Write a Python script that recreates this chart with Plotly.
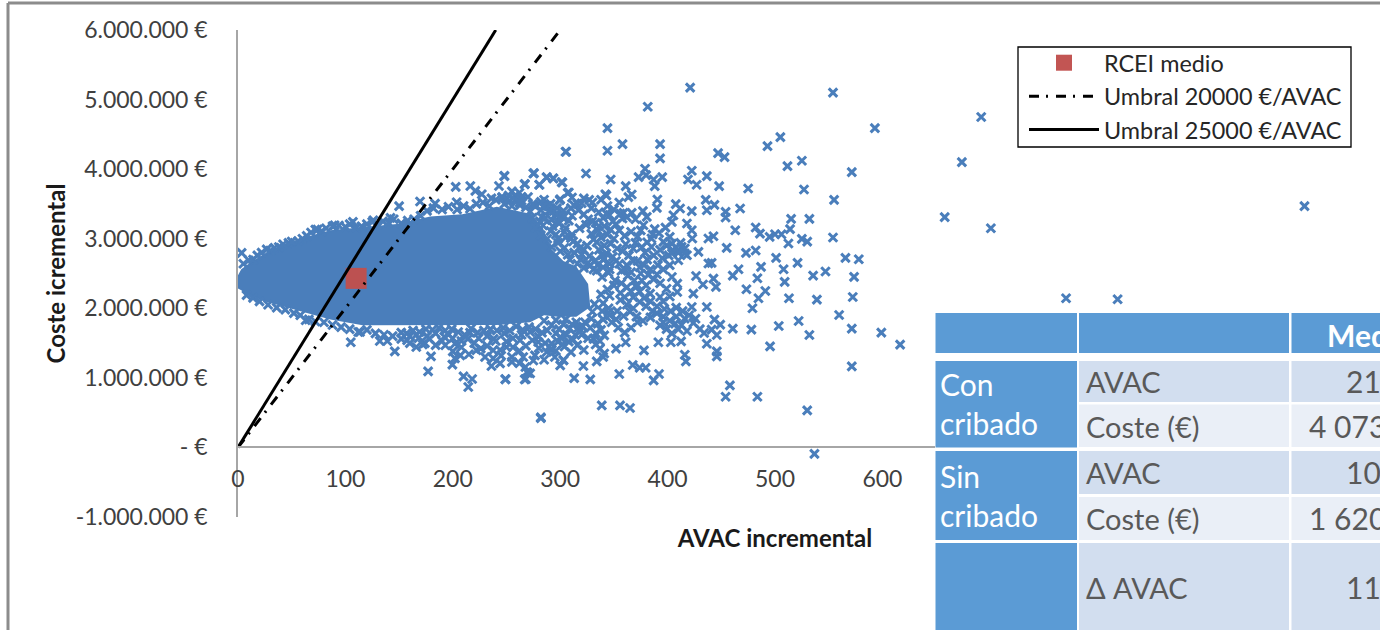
import plotly.graph_objects as go

# Values: AVAC incremental, coste incremental (miles de euros)
nucleo_avac = [-2,-2,3,8,23,55,86,116,148,179,209,241,272,284,292,303,315,326,328,315,298,285,272,241,209,179,148,116,86,55,23,8,3]
nucleo_coste = [2300,2420,2560,2620,2770,2990,3120,3165,3210,3320,3350,3460,3360,3150,2850,2680,2600,2350,2020,1880,1880,1900,1800,1760,1760,1760,1760,1755,1840,1970,2110,2210,2260]

franja_superior = [(3.4,2796),(26.7,2846),(47,2940),(56,2968),(74,3133),(90,3193),(107,3242),(126,3266),(142,3300),(150,3468),(169.5,3535),(183.5,3505),(203.6,3525),(202.7,3745),(216.3,3758),(221,3688),(243,3758),(248,3904),(267,3785),(250.5,3583),(262.6,3482),(275.6,3943),(280.5,3775),(287.4,3885),(293.4,3870),(301.4,3813),(305,4250),(300,3568),(307,3659),(259.5,3554),(274.4,3497),(282,3410),(282.8,3314),(296.7,3338),
(5,2640),(10,2690),(14,2700),(18,2760),(22,2800),(30,2830),(34,2870),(38,2880),(42,2920),(50,2960),(60,3000),(64,3040),(68,3090),(72,3130),(78,3110),(82,3150),(88,3180),(94,3190),(100,3170),(104,3210),(110,3160),(115,3180),(120,3210),(125,3240),(130,3200),(135,3250),(140,3230),(145,3280),(152,3220),(158,3260),(164,3280),(170,3330),(176,3400),(182,3440),(190,3420),(196,3460),(204,3420),(210,3470),(216,3430),(222,3500),(228,3520),(234,3470),(240,3560),(246,3600),(252,3530),(258,3620),(264,3550),(270,3600),(276,3480),(282,3530),(288,3470),(294,3400),(300,3330),(262,3660),(236,3580),(227,3640),(255,3680)]

franja_inferior = [(63,1828),(105,1511),(132,1530),(139,1530),(113.6,1660),(146,1381),(179.7,1309),(177,1094),(199.6,1190),(210,1022),(218,983),(214.4,868),(249,983),(268,983),(272,1065),(282,432),(303,1252),(236,1170),(244,1208),(267.6,1156),(269,1084),(222,1396),(207,1324),(202,1280),(193,1468),(166,1443),(157.5,1540),(174,1500),(237.6,1396),(237.6,1280),(250,1443),(262.6,1540),(255,1300),(265.6,1300),(276.5,1324),(287.4,1371),(292,1492),(300,1587),(279.6,1515),
(8,2190),(14,2150),(20,2100),(28,2050),(36,2010),(44,1980),(52,1930),(58,1900),(66,1840),(72,1810),(80,1800),(88,1760),(96,1730),(104,1700),(112,1660),(120,1690),(128,1640),(136,1620),(144,1600),(152,1650),(160,1600),(168,1570),(176,1600),(184,1640),(192,1590),(200,1570),(208,1530),(216,1650),(224,1570),(232,1600),(240,1530),(248,1640),(256,1570),(264,1620),(272,1660),(280,1590),(288,1680),(296,1640),
(152,1560),(160,1500),(166,1620),(172,1480),(178,1560),(184,1470),(190,1530),(196,1620),(202,1490),(208,1440),(214,1560),(220,1500),(226,1420),(232,1460),(238,1560),(244,1400),(250,1520),(256,1440),(262,1390),(268,1460),(274,1540),(280,1430),(286,1500),(292,1400),(298,1520),(304,1450),(310,1370),(316,1470),(322,1400),(200,1380),(215,1340),(230,1300),(245,1320),(255,1230),(262,1210),(275,1250),(285,1260),(295,1300),(300,1180),
(285,1820),(292,1760),(299,1700),(305,1840),(311,1770),(317,1720),(323,1800),(329,1850),(335,1780),(340,1840),(346,1900),(352,1840),(320,1620),(326,1570),(314,1620),(308,1520),(302,1480),(296,1390),(290,1450),(283,1650),(277,1700),(271,1730),(265,1690),(259,1740),(253,1680),(247,1720),(241,1680),(235,1700),(229,1680),(223,1650),(217,1710),(211,1620),(205,1660),(199,1700),(193,1680),(187,1720),(181,1690),(175,1700),(169,1660),(163,1680),(157,1640)]

dispersos = [(421,5171),(554,5099),(381.5,4897),(593,4590),(344,4590),(505,4461),(493,4331),(358,4360),(305.5,4250),(344,4264),(393,4360),(393,4154),(447,4230),(453,4173),(511.6,4043),(525,4120),(571.5,3957),(475,3722),(527,3708),(555,3559),(248,3900),(275,3938),(267,3784),(280.6,3775),(287.5,3880),(293.7,3866),(302,3808),(324,3938),(347,3852),(361,3756),(373,3885),(379,4005),(380,3914),(387,3852),(395,3885),(388,3756),(422.5,3976),(419,3852),(427,3775),(436.5,3900),(448,3756),(308,3665),(311,3593),(299.6,3554),(327,3559),(342,3640),(343,3621),(366.6,3636),(363.5,3597),(355,3520),(390.5,3564),(390,3444),(377,3396),(380.6,3314),(407.6,3497),(411.6,3434),(422.5,3396),(435.5,3559),(436.5,3410),(443.6,3487),(454,3386),(454,3305),(467.5,3434),(515,3286),(532,3286),(514,3137),(482,3161),(486,3074),(463,3122),(495,3026),(500,3065),(506,3065),(512.5,2931),(525,2998),(530,2959),(554,3017),(455,2868),(473,2796),(482,2830),(501,2724),(521,2652),(508,2561),(565.6,2724),(578,2705),(547,2528),(535.5,2470),(573.6,2451),(509,2379),(487,2595),(483.6,2432),(466,2561),(460.7,2470),(473.4,2273),(491,2249),(484.6,2144),(513,2144),(539,2125),(572.4,2163),(479,2000),(559.7,1904),(522,1818),(503.5,1746),(478,1693),(460.7,1707),(571.5,1707),(532,1616),(599,1650),(616.5,1477),(495.4,1453),(571.5,1165),(458,892),(454,729),(483.6,729),(530,532),(536.7,-92),(282,422),(338.7,604),(355.7,604),(365,566),(313,997),(328,978),(355,1055),(387,964),(392,1055),(367.5,1184),(374,1146),(379.6,1146),(249,978),(267,978),(270,1069),(303,1256),(321.6,1170),(334,1237),(340,1300),(378,1395),(352,1420),(361,1511),(391.4,1511),(403,1511),(412.6,1525),(416,1333),(417,1237),(445.8,1381),(445.8,1309),(436.5,1491),(445.8,1616),(434,1645),(441,1693),(449,1765),(443.6,1837),(418,1674),(416,1851),(407,1779),(393,1755),(436.5,2019),(422.5,2019),(424,2211),(409,2355),(409,2235),(393,2163),(383.7,2211),(433,2341),(442.7,2427),(445,2307),(426.5,2465),(438,2643),(441,2652),(428.7,2811),(418,2763),(409.5,2835),(405,2835),(413,2883),(423,3003),(422.5,3122),(418,3218),(438,3003),(442.7,3036),(404,3242),(405.4,3338),(396,2955),(402,3026),(388,3137),(385,3003),(377.5,3194),(366.6,3372),(359,3372),(658,3310),(674,4101),(692,4749),(701,3151),(993,3468),(771,2144),(819,2130)]

nube_media = [(246,3590),(252,3620),(258,3560),(264,3600),(248,3500),(255,3470),(262,3520),(268,3450),(272,3390),(274,3300),(281,3250),(277,3160),(284,3190),(282,3050),(288,3000),(291,3110),(296,3060),(293,3180),(299,3220),(305,3150),(302,3310),(308,3260),(296,3350),(311,3330),(317,3410),(322,3350),(329,3440),(336,3380),(326,3280),(313,3480),(320,3510),(340,3300),(333,3230),(346,3340),(352,3210),(358,3290),(370,3280),
(292,2880),(298,2940),(304,2870),(310,3010),(316,2930),(322,2840),(329,3070),(335,3120),(341,3180),(347,3130),(338,3020),(344,3060),(350,3000),(334,2950),(341,2900),(347,2930),(353,2860),(336,2840),(343,2790),(349,2740),(340,2700),(346,2640),(335,2620),(352,2680),(358,2820),(364,2760),(370,2940),(376,2880),(360,3040),(366,3100),(372,3030),(379,2800),(362,2620),(368,2680),(374,2590),(381,2700),(387,2760),(393,2840),(399,2900),(385,2880),(391,2620),
(319,2700),(325,2640),(331,2560),(339,2450),(345,2510),(351,2400),(357,2540),(363,2470),(369,2400),(375,2500),(332,2060),(338,2200),(344,2270),(350,2330),(356,2220),(362,2300),(368,2160),(374,2240),(380,2330),(387,2420),(393,2360),(399,2280),(404,2450),
(330,1950),(296,1830),(303,1770),(309,1710),(315,1800),(321,1740),(306,1620),(312,1550),(318,1660),(301,1570),(328,1720),(333,1640),(338,1690),(331,1560),(337,1530),(341,1610),(337,1420),(341,1350),(333,1480),
(356,2120),(362,2050),(368,2000),(374,2090),(380,2030),(386,1960),(353,1960),(359,1890),(365,1950),(371,1880),(377,1820),(348,1800),(354,1720),(360,1650),(366,1720),(372,1800),(384,1870),(390,1930),(396,1880),(402,1820),(408,1880),(413,1760),(399,1700),(404,1640),(396,1800),(410,1700),
(404,2930),(408,2880),(412,2940),(416,2860),(410,2800),(404,2790),(416,2790),
(285,3560),(291,3500),(297,3440),(303,3400),(290,3400),(284,3460),(310,3440),(316,3500),(322,3580),(330,3520),(338,3560),(344,3470),(350,3420),(356,3360),(362,3310),(286,3300),(292,3270),(298,3240),(304,3100),(311,3060),(318,3150),(324,3200),(330,3250),(336,3180),
(298,3000),(305,3020),(312,2960),(318,2860),(325,2900),(331,2990),(300,2820),(307,2770),(313,2800),(320,2770),(327,2750),(333,2690),(339,2760),(309,2700),(316,2640),(322,2580),(328,2620),(334,2540),(340,2590),(346,2560),
(355,2640),(360,2560),(366,2520),(372,2680),(378,2620),(384,2560),(390,2490),(396,2560),(402,2620),(410,2690),(386,3060),(392,3080),(398,3160),(375,3120),(381,2950),(368,2860),(361,2920),(355,3120),(349,3250),(343,3360),(395,2720),(401,2760),(382,2480),(376,2400),(370,2320),(357,2360),(346,2180),(340,2070),(345,2000),(339,1960),(345,1940),(360,2160),(366,2240),(372,2330),(378,2150),(384,2100),(390,2030),(396,2100),(402,2170),(408,2010),(414,1960),(420,1900),(426,1850),(430,1700),(424,1790),(403,1960),(397,1990)]

puntos = franja_superior + franja_inferior + dispersos + nube_media
nube_avac = [p[0] for p in puntos]
nube_coste = [p[1] * 1000 for p in puntos]

rcei_avac = [110]
rcei_coste = [2430000]
umbral_20000_avac = [0, 300]
umbral_20000_coste = [0, 6000000]
umbral_25000_avac = [0, 240]
umbral_25000_coste = [0, 6000000]

y_ticks = [-1000000, 0, 1000000, 2000000, 3000000, 4000000, 5000000, 6000000]
y_labels = ["-1.000.000 €", "- €", "1.000.000 €", "2.000.000 €", "3.000.000 €", "4.000.000 €", "5.000.000 €", "6.000.000 €"]
x_ticks = [0, 100, 200, 300, 400, 500, 600]

tabla_cabecera = ["", "", "Media"]
tabla_grupos = ["Con<br>cribado", "Sin<br>cribado", ""]
tabla_conceptos = ["AVAC", "Coste (€)", "AVAC", "Coste (€)", "Δ AVAC"]
tabla_medias = ["214", "4 073", "104", "1 620", "110"]

AZUL = "#4A7EBB"
TABLA = "#5B9BD5"
FUENTE = "Lato"
W, H = 1380, 630
L, T, R, B = 238, 30, 1312, 517


def px_x(v):
    return (v - L) / (R - L)


def px_y(v):
    return (B - v) / (B - T)


fig = go.Figure()
fig.add_trace(go.Scatter(x=nucleo_avac, y=[v * 1000 for v in nucleo_coste], mode="lines", fill="toself", cliponaxis=False,
                         fillcolor=AZUL, line=dict(width=0, color=AZUL), showlegend=False, hoverinfo="skip"))
fig.add_trace(go.Scatter(x=nube_avac, y=nube_coste, mode="markers", showlegend=False, cliponaxis=False,
                         marker=dict(symbol="x-thin", size=8.5, color=AZUL, line=dict(width=3, color=AZUL))))
fig.add_trace(go.Scatter(x=rcei_avac, y=rcei_coste, mode="markers", name="RCEI medio", legendrank=1,
                         marker=dict(symbol="square", size=21, color="rgba(192,80,77,0.97)", line=dict(width=0))))
fig.add_trace(go.Scatter(x=umbral_20000_avac, y=umbral_20000_coste, mode="lines", name="Umbral 20000 €/AVAC", legendrank=2,
                         line=dict(color="black", width=3, dash="10px,7px,2px,8px")))
fig.add_trace(go.Scatter(x=umbral_25000_avac, y=umbral_25000_coste, mode="lines", name="Umbral 25000 €/AVAC", legendrank=3,
                         line=dict(color="black", width=3)))

shapes = []


def rect(x0, y0, x1, y1, color, border=None):
    shapes.append(dict(type="rect", xref="paper", yref="paper", x0=px_x(x0), x1=px_x(x1), y0=px_y(y1), y1=px_y(y0),
                       fillcolor=color, line=dict(width=1.3 if border else 0, color=border or color), layer="above"))


# outer frame
shapes.append(dict(type="line", xref="paper", yref="paper", x0=px_x(8), x1=px_x(8), y0=px_y(3), y1=px_y(630),
                   line=dict(color="#8C8C8C", width=3), layer="above"))
shapes.append(dict(type="line", xref="paper", yref="paper", x0=px_x(8), x1=px_x(1380), y0=px_y(3), y1=px_y(3),
                   line=dict(color="#8C8C8C", width=3), layer="above"))

# legend box
rect(1018, 47, 1351, 147, "white", "black")

# table
rect(935, 313, 1380, 630, "white")
filas = [(361, 402), (404.5, 447), (451, 494), (497, 540), (543, 630)]
colores = ["#D2DEEF", "#EAEFF7", "#D2DEEF", "#EAEFF7", "#D2DEEF"]
rect(935.5, 313, 1077, 353, TABLA)
rect(1079, 313, 1289, 353, TABLA)
rect(1291.5, 313, 1380, 353, TABLA)
rect(935.5, 361, 1077, 447.5, TABLA)
rect(935.5, 451, 1077, 540, TABLA)
rect(935.5, 543, 1077, 630, TABLA)
for (y0, y1), c in zip(filas, colores):
    rect(1079, y0, 1289, y1, c)
    rect(1291.5, y0, 1380, y1, c)

annotations = []


def texto(x, y, s, size, color, bold=False):
    annotations.append(dict(xref="paper", yref="paper", x=px_x(x), y=px_y(y), text=s, showarrow=False, xanchor="left",
                            yanchor="middle", align="left",
                            font=dict(family=FUENTE, size=size, color=color, weight="bold" if bold else "normal")))


GRIS = "#595959"
texto(1325, 335, tabla_cabecera[2], 30, "white", True)
texto(938, 403, tabla_grupos[0], 30, "white")
texto(938, 495, tabla_grupos[1], 30, "white")
centros = [381, 426, 472, 518, 587]
xs_media = [1344, 1307, 1344, 1307, 1344]
for c, concepto, media, xm in zip(centros, tabla_conceptos, tabla_medias, xs_media):
    texto(1084, c, concepto, 29, GRIS)
    texto(xm, c, media, 30, GRIS)

fig.update_layout(
    width=W, height=H, autosize=False, paper_bgcolor="white", plot_bgcolor="white",
    margin=dict(l=L, r=W - R, t=T, b=H - B),
    font=dict(family=FUENTE, size=23, color="#404040"),
    shapes=shapes, annotations=annotations,
    legend=dict(x=px_x(1024), y=px_y(41), xanchor="left", yanchor="top", bgcolor="rgba(0,0,0,0)", borderwidth=0,
                font=dict(family=FUENTE, size=23.4, color="#262626"), itemwidth=70, traceorder="normal"),
    xaxis=dict(range=[0, 1000], anchor="free", position=(B - 447) / (B - T), showline=True, linecolor="#A6A6A6", linewidth=1.5,
               showgrid=False, zeroline=False, tickvals=x_ticks, ticklen=0, ticklabelstandoff=12,
               title=dict(text="<b>AVAC incremental</b>", font=dict(family=FUENTE, size=24, color="#1a1a1a"), standoff=38)),
    yaxis=dict(range=[-1000000, 6000000], showline=True, linecolor="#A6A6A6", linewidth=1.5, showgrid=False, zeroline=False,
               tickvals=y_ticks, ticktext=y_labels, ticklen=0, ticklabelstandoff=24,
               title=dict(text="<b>Coste icremental</b>", font=dict(family=FUENTE, size=24, color="#1a1a1a"), standoff=3)),
)

fig.write_html("out.html", config={"displayModeBar": False},
               post_script="document.body.style.margin='0';document.body.style.overflow='hidden';window.dispatchEvent(new Event('resize'));")
